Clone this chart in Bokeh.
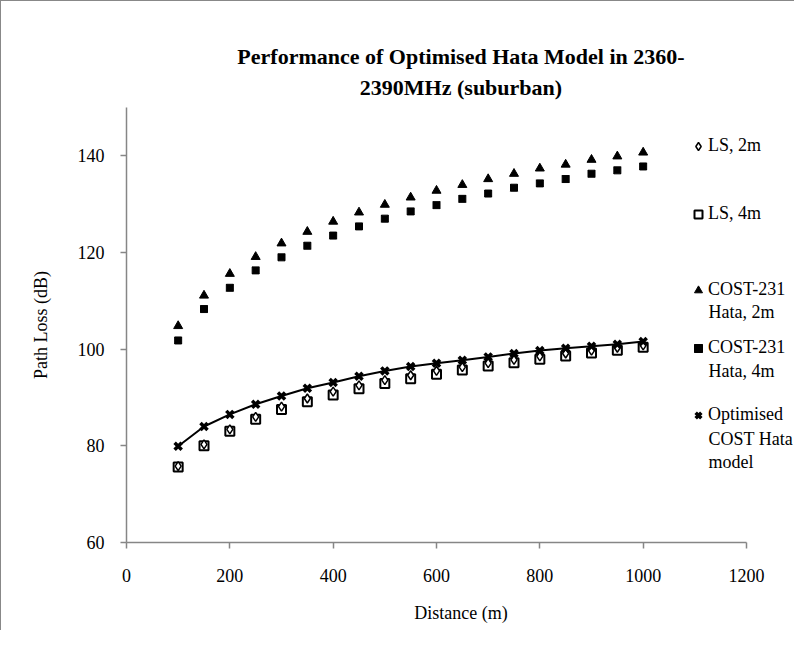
from bokeh.plotting import figure
from bokeh.models import Range1d, FixedTicker, Legend, LegendItem, Label, Title
from bokeh.embed import file_html
from bokeh.resources import INLINE

distance = [100, 150, 200, 250, 300, 350, 400, 450, 500, 550, 600, 650, 700, 750, 800, 850, 900, 950, 1000]
ls_2m = [75.8, 80.3, 83.4, 86.0, 88.1, 89.8, 91.2, 92.5, 93.6, 94.6, 95.5, 96.3, 97.1, 97.8, 98.5, 99.1, 99.7, 100.3, 100.8]
ls_4m = [75.6, 80.0, 83.0, 85.5, 87.5, 89.1, 90.5, 91.8, 92.9, 93.9, 94.8, 95.7, 96.5, 97.2, 97.9, 98.6, 99.2, 99.8, 100.4]
cost_2m = [104.8, 111.1, 115.6, 119.1, 121.9, 124.3, 126.4, 128.3, 129.9, 131.4, 132.8, 134.0, 135.2, 136.3, 137.4, 138.2, 139.2, 139.9, 140.7]
cost_4m = [101.8, 108.3, 112.7, 116.3, 119.0, 121.4, 123.5, 125.4, 127.0, 128.5, 129.8, 131.1, 132.2, 133.4, 134.3, 135.2, 136.3, 137.0, 137.8]
optimised = [79.9, 84.0, 86.5, 88.6, 90.3, 91.9, 93.1, 94.4, 95.5, 96.4, 97.1, 97.7, 98.4, 99.1, 99.7, 100.2, 100.6, 101.0, 101.6]

x_ticks = [0, 200, 400, 600, 800, 1000, 1200]
y_ticks = [60, 80, 100, 120, 140]
title_lines = ["Performance of Optimised Hata Model in 2360-", "2390MHz (suburban)"]

FONT = "Liberation Serif"
AXIS_GREY = "#868686"

# the plot frame reaches the right edge so the legend (which sits right of the data) is not clipped;
# the x axis itself only spans 0..1200
x_end = 1200 * 669 / 620

p = figure(width=794, height=630, output_backend="svg", toolbar_location=None, title=None,
           x_range=Range1d(0, x_end), y_range=Range1d(60, 150),
           min_border_left=125, min_border_right=0, min_border_top=106, min_border_bottom=89,
           styles={"border-left": "1px solid #888888", "border-top": "1px solid #888888"})

# title: two centred lines (first added sits closest to the frame)
p.add_layout(Title(text=title_lines[1], align="center", vertical_align="top", standoff=12,
                   text_font=FONT, text_font_size="22px", text_font_style="bold",
                   text_color="black"), "above")
p.add_layout(Title(text=title_lines[0], align="center", vertical_align="bottom", standoff=0,
                   text_font=FONT, text_font_size="22px", text_font_style="bold",
                   text_color="black"), "above")

p.xgrid.visible = False
p.ygrid.visible = False
p.outline_line_color = None

for ax in (p.xaxis[0], p.yaxis[0]):
    ax.axis_line_color = AXIS_GREY
    ax.axis_line_width = 1.5
    ax.major_tick_line_color = AXIS_GREY
    ax.major_tick_line_width = 1.5
    ax.major_tick_out = 6
    ax.major_tick_in = 0
    ax.minor_tick_line_color = None
    ax.major_label_text_font = FONT
    ax.major_label_text_font_size = "18px"
    ax.major_label_text_color = "black"
    ax.axis_label_text_font = FONT
    ax.axis_label_text_font_size = "18px"
    ax.axis_label_text_font_style = "normal"
    ax.axis_label_text_color = "black"

p.xaxis[0].ticker = FixedTicker(ticks=x_ticks)
p.yaxis[0].ticker = FixedTicker(ticks=y_ticks)
p.xaxis[0].bounds = (0, 1200)
p.xaxis[0].axis_label = "Distance (m)"
p.yaxis[0].axis_label = "Path Loss (dB)"
p.xaxis[0].major_label_standoff = 20
p.xaxis[0].axis_label_standoff = 18
p.yaxis[0].major_label_standoff = 16
p.yaxis[0].axis_label_standoff = 24

r_cost2 = p.scatter(distance, cost_2m, marker="triangle", size=9, fill_color="black", line_color="black")
r_cost4 = p.scatter(distance, cost_4m, marker="square_x", size=7, fill_color="black", line_color="black", line_width=1)
r_ls4 = p.scatter(distance, ls_4m, marker="square", size=9, fill_color="white", line_color="black", line_width=2)
r_ls2 = p.scatter(distance, ls_2m, marker="diamond", size=9, fill_color="white", line_color="black", line_width=1.5)
r_line = p.line(distance, optimised, line_color="black", line_width=2)
r_opt = p.scatter(distance, optimised, marker="x", size=10, line_color="black", line_width=3.5)

entries = [
    ("LS, 2m", [r_ls2], 386),
    ("LS, 4m", [r_ls4], 318),
    ("COST-231", [r_cost2], 242),
    ("COST-231", [r_cost4], 184),
    ("Optimised", [r_opt], 117),
]
for label, rends, ly in entries:
    lg = Legend(items=[LegendItem(label=label, renderers=rends)], location=(562, ly),
                padding=0, margin=0, spacing=0, glyph_width=20, glyph_height=20,
                label_height=20, label_standoff=0, border_line_color=None,
                background_fill_alpha=0, label_text_font=FONT, label_text_font_size="18px",
                label_text_color="black")
    p.add_layout(lg)

extra_lines = [("Hata, 2m", 231), ("Hata, 4m", 172), ("COST Hata", 104), ("model", 81)]
for txt, yy in extra_lines:
    p.add_layout(Label(x=582, y=yy, x_units="screen", y_units="screen", text=txt,
                       text_font=FONT, text_font_size="18px", text_color="black",
                       text_baseline="middle", text_align="left"))

open("out.html", "w").write(file_html(p, INLINE))
